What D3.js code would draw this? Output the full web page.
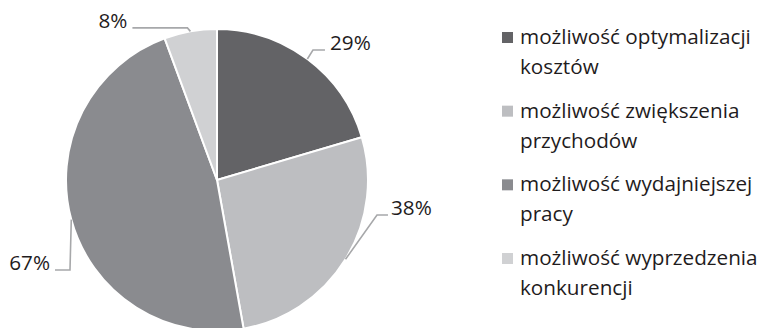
<!DOCTYPE html>
<html>
<head>
<meta charset="utf-8">
<script src="https://cdn.jsdelivr.net/npm/d3@7"></script>
<style>
  html, body { margin: 0; padding: 0; background: #ffffff; }
  svg { display: block; }
  text { font-family: "Open Sans", "Noto Sans", sans-serif; fill: #1f1c1d; }
</style>
</head>
<body>
<svg id="chart" width="764" height="328"></svg>
<script>
// Survey answers (share of respondents, %)
const categories = [
  "możliwość optymalizacji kosztów",
  "możliwość zwiększenia przychodów",
  "możliwość wydajniejszej pracy",
  "możliwość wyprzedzenia konkurencji"
];
const values = [29, 38, 67, 8];
const valueLabels = ["29%", "38%", "67%", "8%"];
// Legend entries broken onto two lines
const legendLines = [
  ["możliwość optymalizacji", "kosztów"],
  ["możliwość zwiększenia", "przychodów"],
  ["możliwość wydajniejszej", "pracy"],
  ["możliwość wyprzedzenia", "konkurencji"]
];
const colors = ["#636366", "#bdbec1", "#8a8b8f", "#d0d1d3"];

const svg = d3.select("#chart");
const cx = 217, cy = 180, radius = 151;
const fontSize = 20.7;

const color = d3.scaleOrdinal().domain(categories).range(colors);

const pie = d3.pie().sort(null).value(d => d.value);
const rows = categories.map((c, i) => ({ category: c, value: values[i], label: valueLabels[i], lines: legendLines[i] }));
const arcs = pie(rows);

const arc = d3.arc().innerRadius(0).outerRadius(radius);

const g = svg.append("g").attr("transform", `translate(${cx},${cy})`);

g.selectAll("path.slice")
  .data(arcs)
  .join("path")
  .attr("class", "slice")
  .attr("d", arc)
  .attr("fill", d => color(d.data.category))
  .attr("stroke", "#ffffff")
  .attr("stroke-width", 2)
  .attr("stroke-linejoin", "round");

// Leader lines: from the rim at the slice's mid-angle, an elbow, then a short horizontal run
const leaderLayout = [
  { dx: 5.6, dy: -9, run: 12, gap: 5 },
  { dx: 31.5, dy: -44.3, run: 11, gap: 3 },
  { dx: -1.3, dy: 50.4, run: -15, gap: 5 },
  { dx: -3, dy: -3.5, run: -55, gap: 5 }
];

arcs.forEach((a, i) => {
  const mid = (a.startAngle + a.endAngle) / 2;
  const px = Math.sin(mid) * radius, py = -Math.cos(mid) * radius;
  const L = leaderLayout[i];
  const ex = px + L.dx, ey = py + L.dy;
  const hx = ex + L.run;
  g.append("polyline")
    .attr("points", [[px, py], [ex, ey], [hx, ey]].map(p => p.join(",")).join(" "))
    .attr("fill", "none")
    .attr("stroke", "#a7a8aa")
    .attr("stroke-width", 1.6);
  const right = L.run > 0;
  g.append("text")
    .attr("x", right ? hx + L.gap : hx - L.gap)
    .attr("y", ey)
    .attr("text-anchor", right ? "start" : "end")
    .attr("font-size", fontSize)
    .text(a.data.label);
});

// Legend
const legend = svg.append("g").attr("transform", "translate(502,0)");
const itemY = d3.scalePoint().domain(categories).range([44, 265]);
const item = legend.selectAll("g.item")
  .data(rows)
  .join("g")
  .attr("class", "item")
  .attr("transform", d => `translate(0,${itemY(d.category)})`);

item.append("rect")
  .attr("x", 0).attr("y", -12)
  .attr("width", 11).attr("height", 11)
  .attr("fill", d => color(d.category));

item.append("text")
  .attr("x", 18)
  .attr("font-size", fontSize)
  .selectAll("tspan")
  .data(d => d.lines)
  .join("tspan")
  .attr("x", 18)
  .attr("y", (d, i) => i * 30)
  .text(d => d);
</script>
</body>
</html>
